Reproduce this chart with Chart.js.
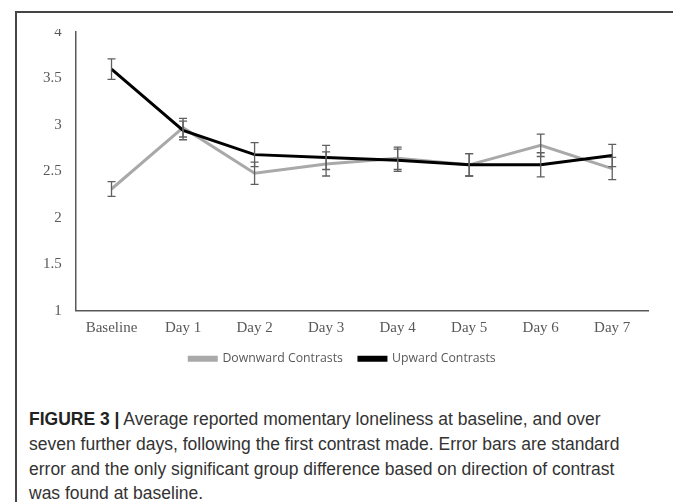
<!DOCTYPE html>
<html>
<head>
<meta charset="utf-8">
<script src="https://cdn.jsdelivr.net/npm/chart.js@4.4.1/dist/chart.umd.min.js"></script>
<style>
  html, body { margin: 0; padding: 0; background: #fff; }
  body { width: 673px; height: 502px; position: relative; overflow: hidden; }
  .frame {
    position: absolute; left: 15px; top: 11px; width: 700px; height: 520px;
    border-left: 2px solid #454545; border-top: 2px solid #454545;
  }
  #chartBox {
    position: absolute; left: 37px; top: 17px; width: 617px; height: 358px;
    clip-path: inset(12px 0 0 0);
  }
  .caption {
    position: absolute; left: 29px; top: 407px; width: 640px; white-space: nowrap;
    font-family: "Liberation Sans", Arial, sans-serif; font-size: 17.5px;
    line-height: 24.8px; color: #333;
  }
  .caption b { color: #222; }
</style>
</head>
<body>
<div class="frame"></div>
<div id="chartBox"><canvas id="c"></canvas></div>
<div class="caption"><b>FIGURE 3 |</b> Average reported momentary loneliness at baseline, and over<br>seven further days, following the first contrast made. Error bars are standard<br>error and the only significant group difference based on direction of contrast<br>was found at baseline.</div>
<script>
// Days of the study
const categories = ['Baseline', 'Day 1', 'Day 2', 'Day 3', 'Day 4', 'Day 5', 'Day 6', 'Day 7'];

// Mean momentary loneliness and standard errors
const downwardMeans = [2.31, 2.97, 2.48, 2.58, 2.64, 2.57, 2.78, 2.53];
const downwardSE    = [0.08, 0.10, 0.12, 0.13, 0.12, 0.12, 0.12, 0.12];
const upwardMeans   = [3.60, 2.94, 2.68, 2.65, 2.62, 2.57, 2.57, 2.67];
const upwardSE      = [0.11, 0.10, 0.13, 0.13, 0.12, 0.12, 0.13, 0.12];

// Value axis labels
const yTickValues = [1, 1.5, 2, 2.5, 3, 3.5, 4];
const yTickLabels = ['1', '1.5', '2', '2.5', '3', '3.5', '4'];

const axisColor = '#595959';

// Standard-error whiskers drawn through the chart's own scales
const errorBars = {
  id: 'errorBars',
  afterDatasetsDraw(chart) {
    const ctx = chart.ctx;
    const x = chart.scales.x, y = chart.scales.y;
    ctx.save();
    ctx.strokeStyle = '#5f5f5f';
    ctx.lineWidth = 1.3;
    chart.data.datasets.forEach(ds => {
      ds.data.forEach((v, i) => {
        const se = ds.errors[i];
        const px = x.getPixelForValue(i);
        const top = y.getPixelForValue(v + se);
        const bot = y.getPixelForValue(v - se);
        ctx.beginPath();
        ctx.moveTo(px, top); ctx.lineTo(px, bot);
        ctx.moveTo(px - 4, top); ctx.lineTo(px + 4, top);
        ctx.moveTo(px - 4, bot); ctx.lineTo(px + 4, bot);
        ctx.stroke();
      });
    });
    ctx.restore();
  }
};

new Chart(document.getElementById('c'), {
  type: 'line',
  data: {
    labels: categories,
    datasets: [
      {
        label: 'Downward Contrasts',
        data: downwardMeans,
        errors: downwardSE,
        borderColor: '#a9a9a9',
        backgroundColor: '#a9a9a9',
        borderWidth: 3,
        pointRadius: 0,
        tension: 0,
        order: 1
      },
      {
        label: 'Upward Contrasts',
        data: upwardMeans,
        errors: upwardSE,
        borderColor: '#000000',
        backgroundColor: '#000000',
        borderWidth: 3,
        pointRadius: 0,
        tension: 0,
        order: 0
      }
    ]
  },
  options: {
    responsive: true,
    maintainAspectRatio: false,
    animation: false,
    layout: { padding: { left: 0, right: 6, top: 0, bottom: 0 } },
    plugins: {
      tooltip: { enabled: false },
      legend: {
        position: 'bottom',
        labels: {
          boxWidth: 27,
          boxHeight: 3,
          padding: 16,
          color: '#595959',
          font: { family: '"Open Sans", sans-serif', size: 12.3 },
          sort: (a, b) => a.datasetIndex - b.datasetIndex
        }
      }
    },
    scales: {
      x: {
        offset: true,
        grid: { display: false },
        border: { display: true, color: axisColor, width: 1.5 },
        ticks: {
          color: '#595959',
          padding: 0,
          maxRotation: 0,
          font: { family: '"Liberation Serif", serif', size: 15 }
        }
      },
      y: {
        min: 1,
        max: 4,
        afterBuildTicks(scale) {
          scale.ticks = yTickValues.map(v => ({ value: v }));
        },
        grid: { display: false },
        border: { display: true, color: axisColor, width: 1.5 },
        ticks: {
          color: '#595959',
          padding: 6,
          font: { family: '"Liberation Serif", serif', size: 15 },
          callback(value) {
            const i = yTickValues.indexOf(value);
            return i >= 0 ? yTickLabels[i] : '';
          }
        }
      }
    }
  },
  plugins: [errorBars]
});
</script>
</body>
</html>
